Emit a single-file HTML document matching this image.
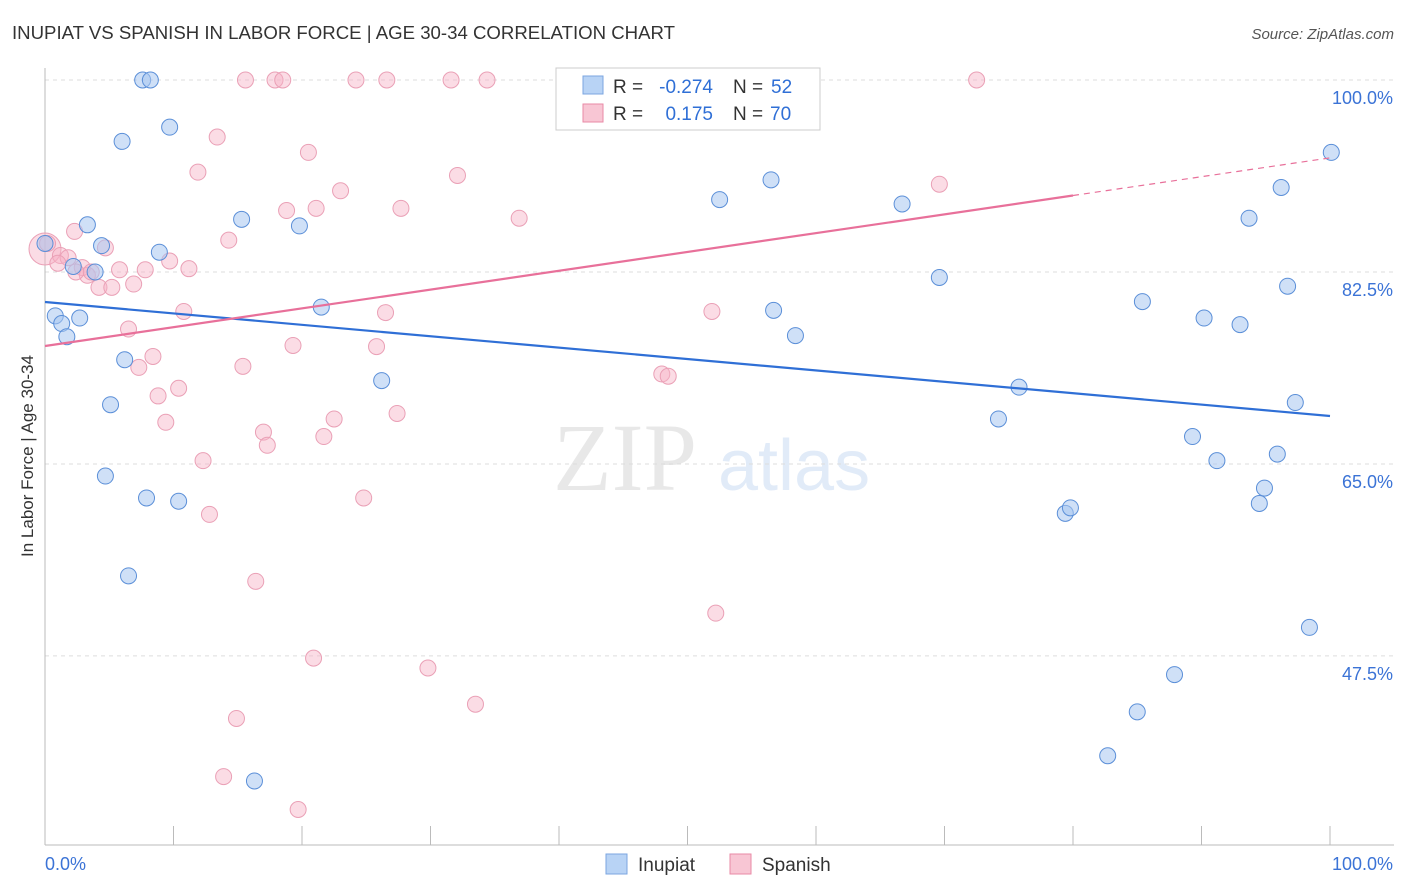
<!DOCTYPE html>
<html><head><meta charset="utf-8"><style>
body{margin:0;background:#fff;font-family:"Liberation Sans",sans-serif;}
svg{display:block}
</style></head><body>
<svg id="chart" width="1406" height="892" xmlns="http://www.w3.org/2000/svg" font-family="Liberation Sans, sans-serif">
<text x="12" y="39" font-size="18" fill="#333" textLength="663" lengthAdjust="spacingAndGlyphs">INUPIAT VS SPANISH IN LABOR FORCE | AGE 30-34 CORRELATION CHART</text>
<text x="1394" y="39" font-size="15" fill="#555" text-anchor="end" font-style="italic">Source: ZipAtlas.com</text>
<text transform="translate(33,456) rotate(-90)" font-size="17" fill="#333" text-anchor="middle">In Labor Force | Age 30-34</text>
<g font-size="96" opacity="0.22"><text x="553" y="490" fill="#999" font-family="Liberation Serif, serif">ZIP</text><text x="718" y="490" fill="#7ba6e0" font-size="72">atlas</text></g>
<g id="grid"></g><g id="axes"></g><g id="pts"></g><g id="lines"></g>
<g font-size="19">
<rect x="556" y="68" width="264" height="62" fill="#fff" stroke="#ccc"/>
<rect x="583" y="76" width="20" height="18" fill="#b8d3f5" stroke="#7ba6e0"/>
<text x="613" y="93" fill="#333">R =</text>
<text x="713" y="93" fill="#2f6fd6" text-anchor="end">-0.274</text>
<text x="733" y="93" fill="#333">N =</text>
<text x="771" y="93" fill="#2f6fd6">52</text>
<rect x="583" y="104" width="20" height="18" fill="#f8c6d4" stroke="#e88aa6"/>
<text x="613" y="120" fill="#333">R =</text>
<text x="713" y="120" fill="#2f6fd6" text-anchor="end">0.175</text>
<text x="733" y="120" fill="#333">N =</text>
<text x="770" y="120" fill="#2f6fd6">70</text>
</g>
<g>
<rect x="606" y="854" width="21" height="20" fill="#b8d3f5" stroke="#7ba6e0"/>
<text x="638" y="871" font-size="19" fill="#333">Inupiat</text>
<rect x="730" y="854" width="21" height="20" fill="#f8c6d4" stroke="#e88aa6"/>
<text x="762" y="871" font-size="19" fill="#333">Spanish</text>
</g>
</svg>
<script>
const yTicks=[100,82.5,65,47.5];
const yTickLabels=["100.0%","82.5%","65.0%","47.5%"];
const blueX=[7.6,8.2,9.7,6.0,3.3,0,4.4,8.9,2.2,3.9,0.8,1.3,2.7,1.7,6.2,5.1,4.7,7.9,10.4,6.5,16.3,15.3,19.8,21.5,26.2,52.5,56.5,66.7,69.6,56.7,58.4,75.8,74.2,85.4,90.2,93.0,89.3,91.2,79.4,79.8,95.9,94.9,94.5,97.3,98.4,87.9,85.0,82.7,100.1,96.2,93.7,96.7];
const blueY=[100,100,95.7,94.4,86.8,85.1,84.9,84.3,83.0,82.5,78.5,77.8,78.3,76.6,74.5,70.4,63.9,61.9,61.6,54.8,36.1,87.3,86.7,79.3,72.6,89.1,90.9,88.7,82.0,79.0,76.7,72.0,69.1,79.8,78.3,77.7,67.5,65.3,60.5,61.0,65.9,62.8,61.4,70.6,50.1,45.8,42.4,38.4,93.4,90.2,87.4,81.2];
const pinkX=[0,1.2,1.8,2.3,4.7,2.9,3.3,4.2,5.2,5.8,6.9,7.8,9.7,11.2,6.5,7.3,8.4,8.8,9.4,10.4,10.8,11.9,13.4,14.3,12.3,12.8,15.4,16.4,17.0,17.3,19.3,18.8,20.5,21.1,23.0,22.5,21.7,24.8,25.8,26.5,27.4,27.7,32.1,36.9,20.9,29.8,33.5,14.9,13.9,19.7,15.6,17.9,18.5,24.2,26.6,31.6,34.4,40.4,46.5,55.5,72.5,51.9,48.0,48.5,52.2,69.6,3.6,1.0,0.2,2.4];
const pinkY=[84.6,84.0,83.8,86.2,84.7,82.9,82.2,81.1,81.1,82.7,81.4,82.7,83.5,82.8,77.3,73.8,74.8,71.2,68.8,71.9,78.9,91.6,94.8,85.4,65.3,60.4,73.9,54.3,67.9,66.7,75.8,88.1,93.4,88.3,89.9,69.1,67.5,61.9,75.7,78.8,69.6,88.3,91.3,87.4,47.3,46.4,43.1,41.8,36.5,33.5,100,100,100,100,100,100,100,100,100,100,100,78.9,73.2,73.0,51.4,90.5,82.5,83.3,85.1,82.5];
const blueTrend=[79.76,69.37];
const pinkTrend=[75.75,92.9];
const NS='http://www.w3.org/2000/svg';
const X0=45,X1=1330;
const xs=v=>X0+(X1-X0)*v/100;
const ys=v=>80+(100-v)*10.97;
function mk(tag,attrs,parent){const e=document.createElementNS(NS,tag);for(const k in attrs)e.setAttribute(k,attrs[k]);document.getElementById(parent).appendChild(e);return e;}
yTicks.forEach((t,i)=>{
 const l=mk('line',{x1:45,x2:1394,y1:ys(t),y2:ys(t),stroke:'#ddd','stroke-dasharray':'4,4'},'grid');
 
 
 const tx=mk('text',{x:1393,y:ys(t)+24,'font-size':18,fill:'#3b73d6','text-anchor':'end'},'grid');
 tx.textContent=yTickLabels[i];
 
 
});
let a=mk('line',{x1:45,x2:45,y1:68,y2:845,stroke:'#bbb'},'axes');


a=mk('line',{x1:45,x2:1394,y1:845,y2:845,stroke:'#bbb'},'axes');


for(let i=0;i<=10;i++){const t=mk('line',{x1:xs(i*10),x2:xs(i*10),y1:826,y2:845,stroke:'#bbb'},'axes');
 
 }
let xl=mk('text',{x:45,y:870,'font-size':18,fill:'#3b73d6'},'axes');xl.textContent='0.0%';


xl=mk('text',{x:1393,y:870,'font-size':18,fill:'#3b73d6','text-anchor':'end'},'axes');xl.textContent='100.0%';


pinkX.forEach((v,i)=>{const c=mk('circle',{cx:xs(v),cy:ys(pinkY[i]),r:i==0?16:8,fill:'rgba(246,178,198,0.45)',stroke:'#eaa0b6','stroke-width':1},'pts');
 
 });
blueX.forEach((v,i)=>{const c=mk('circle',{cx:xs(v),cy:ys(blueY[i]),r:8,fill:'rgba(168,198,240,0.55)',stroke:'#5b8fd8','stroke-width':1},'pts');
 
 });
let ln=mk('line',{x1:xs(0),y1:ys(blueTrend[0]),x2:xs(100),y2:ys(blueTrend[1]),stroke:'#2f6fd6','stroke-width':2.2},'lines');


const pAt=v=>pinkTrend[0]+(pinkTrend[1]-pinkTrend[0])*v/100;
ln=mk('line',{x1:xs(0),y1:ys(pAt(0)),x2:xs(80),y2:ys(pAt(80)),stroke:'#e8709a','stroke-width':2.2},'lines');


ln=mk('line',{x1:xs(80),y1:ys(pAt(80)),x2:xs(100),y2:ys(pAt(100)),stroke:'#e8709a','stroke-width':1.2,'stroke-dasharray':'6,5'},'lines');


</script>
</body></html>
